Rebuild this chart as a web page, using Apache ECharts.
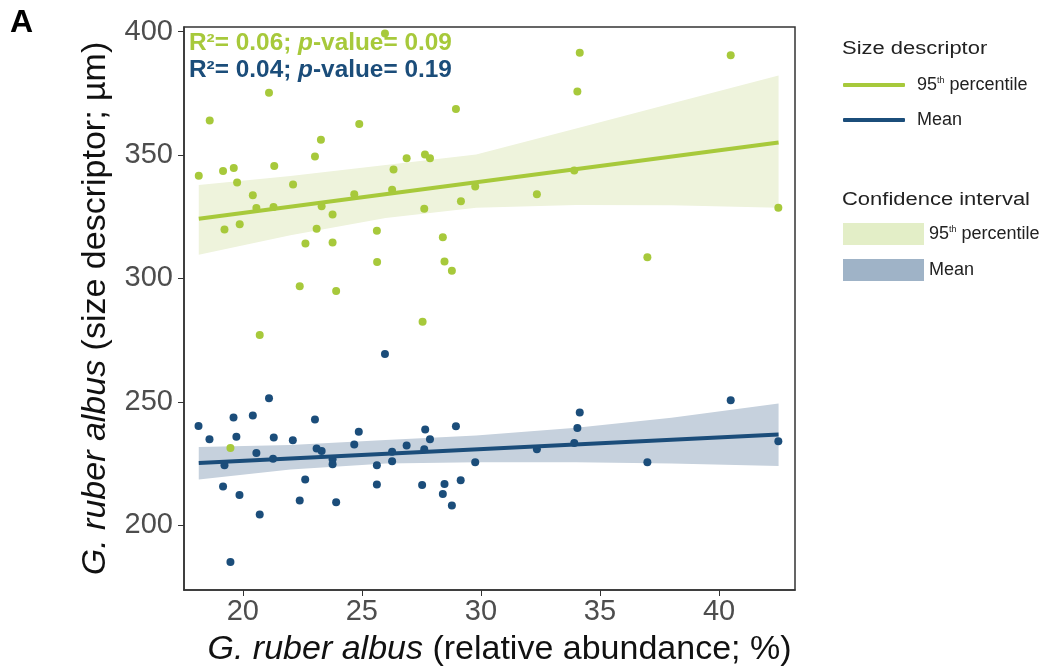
<!DOCTYPE html>
<html>
<head>
<meta charset="utf-8">
<title>G. ruber albus size vs abundance</title>
<script src="https://cdn.jsdelivr.net/npm/echarts@6/dist/echarts.min.js"></script>
<style>
  html, body { margin: 0; padding: 0; background: #fff; }
  #chart { width: 1049px; height: 671px; }
</style>
</head>
<body>
<div id="chart"></div>
<script>
// 95th percentile size per sample [abundance %, size µm]
const p95Points = [
  [25.97, 399.3], [21.1, 375.2], [18.61, 364.0], [28.95, 368.7], [24.89, 362.6],
  [23.28, 356.2], [23.03, 349.4], [21.32, 345.6], [18.15, 341.6], [19.17, 343.5],
  [19.62, 344.7], [19.76, 338.9], [22.11, 338.1], [26.33, 344.1], [26.88, 348.7],
  [27.65, 350.2], [27.86, 348.7], [20.42, 333.7], [20.57, 328.5], [21.29, 328.9],
  [23.31, 329.2], [23.77, 325.9], [24.68, 334.1], [26.27, 335.9], [27.62, 328.2],
  [29.16, 331.3], [29.76, 337.3], [34.15, 391.5], [40.49, 390.4], [34.05, 375.8],
  [33.92, 343.7], [32.35, 334.1], [42.49, 328.6], [19.23, 319.8], [19.87, 321.9],
  [23.1, 320.1], [22.63, 314.1], [23.77, 314.6], [25.63, 319.3], [25.64, 306.6],
  [28.4, 316.7], [28.47, 306.8], [28.78, 303.1], [22.39, 296.8], [23.92, 294.9],
  [27.55, 282.4], [20.71, 277.1], [36.99, 308.6], [19.48, 231.3]
];

// mean size per sample
const meanPoints = [
  [25.97, 269.4], [21.1, 251.4], [19.61, 243.6], [20.42, 244.4], [23.03, 242.8],
  [34.15, 245.6], [40.49, 250.6], [18.14, 240.2], [18.6, 234.8], [19.73, 235.8],
  [20.57, 229.2], [21.3, 235.5], [21.27, 226.9], [19.23, 224.3], [22.1, 234.4],
  [23.1, 231.1], [23.31, 230.0], [23.77, 226.7], [23.77, 224.7], [24.87, 237.8],
  [24.68, 232.7], [25.63, 224.3], [25.63, 216.5], [26.27, 229.7], [26.27, 225.9],
  [26.88, 232.3], [27.66, 238.8], [27.86, 234.8], [27.62, 230.8], [28.95, 240.1],
  [29.76, 225.5], [19.17, 215.7], [19.86, 212.2], [22.62, 218.5], [22.39, 210.0],
  [23.92, 209.3], [20.71, 204.3], [19.48, 185.0], [27.53, 216.3], [28.47, 216.7],
  [28.4, 212.6], [29.15, 218.2], [28.78, 208.0], [34.05, 239.4], [33.92, 233.3],
  [32.35, 230.7], [36.99, 225.5], [42.49, 234.0]
];

// fitted lines (end points)
const p95Fit = [[18.15, 324.2], [42.5, 355.1]];
const meanFit = [[18.15, 225.2], [42.5, 236.7]];

// confidence bands read along x
const bandX = [18.15, 22, 26, 29.8, 34, 38, 42.5];
const p95Lo = [309.6, 317.5, 324.5, 328.6, 329.8, 329.6, 328.6];
const p95Hi = [337.9, 341.5, 346.0, 350.2, 360.8, 370.9, 382.2];
const meanLo = [218.5, 222.5, 225.0, 225.5, 225.5, 225.0, 224.0];
const meanHi = [231.7, 232.5, 234.5, 236.3, 239.5, 243.5, 249.3];

const xTicks = [20, 25, 30, 35, 40];
const yTicks = [200, 250, 300, 350, 400];

const GREEN = '#a7c93b';
const BLUE = '#1b4d7a';
const FONT = '"Liberation Sans", Arial, sans-serif';

const chart = echarts.init(document.getElementById('chart'));

const bandSeries = (name, lo, hi, fill) => ({
  name: name,
  type: 'custom',
  silent: true,
  z: 1,
  clip: true,
  itemStyle: { color: fill },
  data: bandX.map((x, i) => [x, lo[i], hi[i]]),
  encode: { x: 0, y: [1, 2] },
  renderItem: (params, api) => {
    if (params.dataIndex !== 0) return;
    const top = bandX.map((x, i) => api.coord([x, hi[i]]));
    const bottom = bandX.map((x, i) => api.coord([x, lo[i]])).reverse();
    return {
      type: 'polygon',
      shape: { points: top.concat(bottom) },
      style: { fill: fill }
    };
  }
});

const legendNames = {
  'Fit95': '95{sup|th} percentile',
  'FitMean': 'Mean',
  'CI95': '95{sup|th} percentile',
  'CIMean': 'Mean'
};
const legendText = (pad) => ({
  color: '#222',
  fontFamily: FONT,
  fontSize: 18,
  padding: [0, 0, 0, pad],
  rich: {
    sup: { fontSize: 9, verticalAlign: 'top', padding: [0, 0, 9, 0], color: '#222', fontFamily: FONT }
  }
});

const axisName = (pad) => ({
  fontSize: 34, color: '#111', fontFamily: FONT,
  padding: pad,
  rich: { i: { fontStyle: 'italic', fontSize: 34, color: '#111', fontFamily: FONT } }
});

chart.setOption({
  animation: false,
  backgroundColor: '#fff',
  textStyle: { fontFamily: FONT },
  grid: {
    left: 184, right: 254, top: 27, bottom: 81,
    outerBoundsMode: 'none',
    show: true, borderColor: '#333', borderWidth: 1.5, backgroundColor: 'transparent'
  },
  xAxis: {
    type: 'value',
    min: 17.53,
    max: 43.19,
    splitLine: { show: false },
    axisLine: { show: true, onZero: false, lineStyle: { color: '#333', width: 1.5 } },
    axisTick: { show: true, length: 6, customValues: xTicks, lineStyle: { color: '#333' } },
    axisLabel: { customValues: xTicks, fontSize: 29, color: '#4d4d4d', margin: 7, fontFamily: FONT },
    name: '{i|G. ruber albus} (relative abundance; %)',
    nameLocation: 'middle',
    nameGap: 43,
    nameTextStyle: axisName([0, 0, 0, 20])
  },
  yAxis: {
    type: 'value',
    min: 173.7,
    max: 401.9,
    splitLine: { show: false },
    axisLine: { show: true, onZero: false, lineStyle: { color: '#333', width: 1.5 } },
    axisTick: { show: true, length: 6, customValues: yTicks, lineStyle: { color: '#333' } },
    axisLabel: { customValues: yTicks, fontSize: 29, color: '#4d4d4d', margin: 11, fontFamily: FONT },
    name: '{i|G. ruber albus} (size descriptor; µm)',
    nameLocation: 'middle',
    nameGap: 71,
    nameTextStyle: axisName(0)
  },
  legend: [
    {
      data: [
        { name: 'Fit95', itemStyle: { color: GREEN } },
        { name: 'FitMean', itemStyle: { color: BLUE } }
      ],
      orient: 'vertical',
      left: 838,
      top: 71,
      icon: 'roundRect',
      itemWidth: 62,
      itemHeight: 4,
      itemGap: 17,
      selectedMode: false,
      formatter: n => legendNames[n],
      textStyle: legendText(7)
    },
    {
      data: [
        { name: 'CI95', itemStyle: { color: '#e3eec7' } },
        { name: 'CIMean', itemStyle: { color: '#9fb3c7' } }
      ],
      orient: 'vertical',
      left: 838,
      top: 218,
      icon: 'rect',
      itemWidth: 81,
      itemHeight: 22,
      itemGap: 14,
      selectedMode: false,
      formatter: n => legendNames[n],
      textStyle: legendText(0)
    }
  ],
  graphic: [
    { type: 'text', left: 10, top: 7, style: { text: 'A', font: 'bold 32px ' + FONT, fill: '#000' } },
    { type: 'text', x: 842, y: 40, scaleX: 1.22, style: { text: 'Size descriptor', font: '18px ' + FONT, fill: '#222' } },
    { type: 'text', x: 842, y: 191, scaleX: 1.22, style: { text: 'Confidence interval', font: '18px ' + FONT, fill: '#222' } },
    {
      type: 'text', x: 189, y: 32, scaleX: 1.06,
      style: {
        text: 'R²= 0.06; {i|p}-value= 0.09',
        font: 'bold 23px ' + FONT, fill: GREEN,
        rich: { i: { fontStyle: 'italic', fontWeight: 'bold', fontSize: 23, fill: GREEN, fontFamily: FONT } }
      }
    },
    {
      type: 'text', x: 189, y: 59, scaleX: 1.06,
      style: {
        text: 'R²= 0.04; {i|p}-value= 0.19',
        font: 'bold 23px ' + FONT, fill: BLUE,
        rich: { i: { fontStyle: 'italic', fontWeight: 'bold', fontSize: 23, fill: BLUE, fontFamily: FONT } }
      }
    }
  ],
  series: [
    bandSeries('CI95', p95Lo, p95Hi, '#eef3dc'),
    bandSeries('CIMean', meanLo, meanHi, '#c6d1dd'),
    {
      name: 'P95Points', type: 'scatter', z: 3, symbolSize: 8,
      itemStyle: { color: GREEN, opacity: 1 }, data: p95Points
    },
    {
      name: 'MeanPoints', type: 'scatter', z: 3, symbolSize: 8,
      itemStyle: { color: BLUE, opacity: 1 }, data: meanPoints
    },
    {
      name: 'Fit95', type: 'line', z: 4, symbol: 'none',
      lineStyle: { color: GREEN, width: 4 }, itemStyle: { color: GREEN }, data: p95Fit
    },
    {
      name: 'FitMean', type: 'line', z: 4, symbol: 'none',
      lineStyle: { color: BLUE, width: 4 }, itemStyle: { color: BLUE }, data: meanFit
    }
  ]
});

window.addEventListener('resize', () => chart.resize());
</script>
</body>
</html>
